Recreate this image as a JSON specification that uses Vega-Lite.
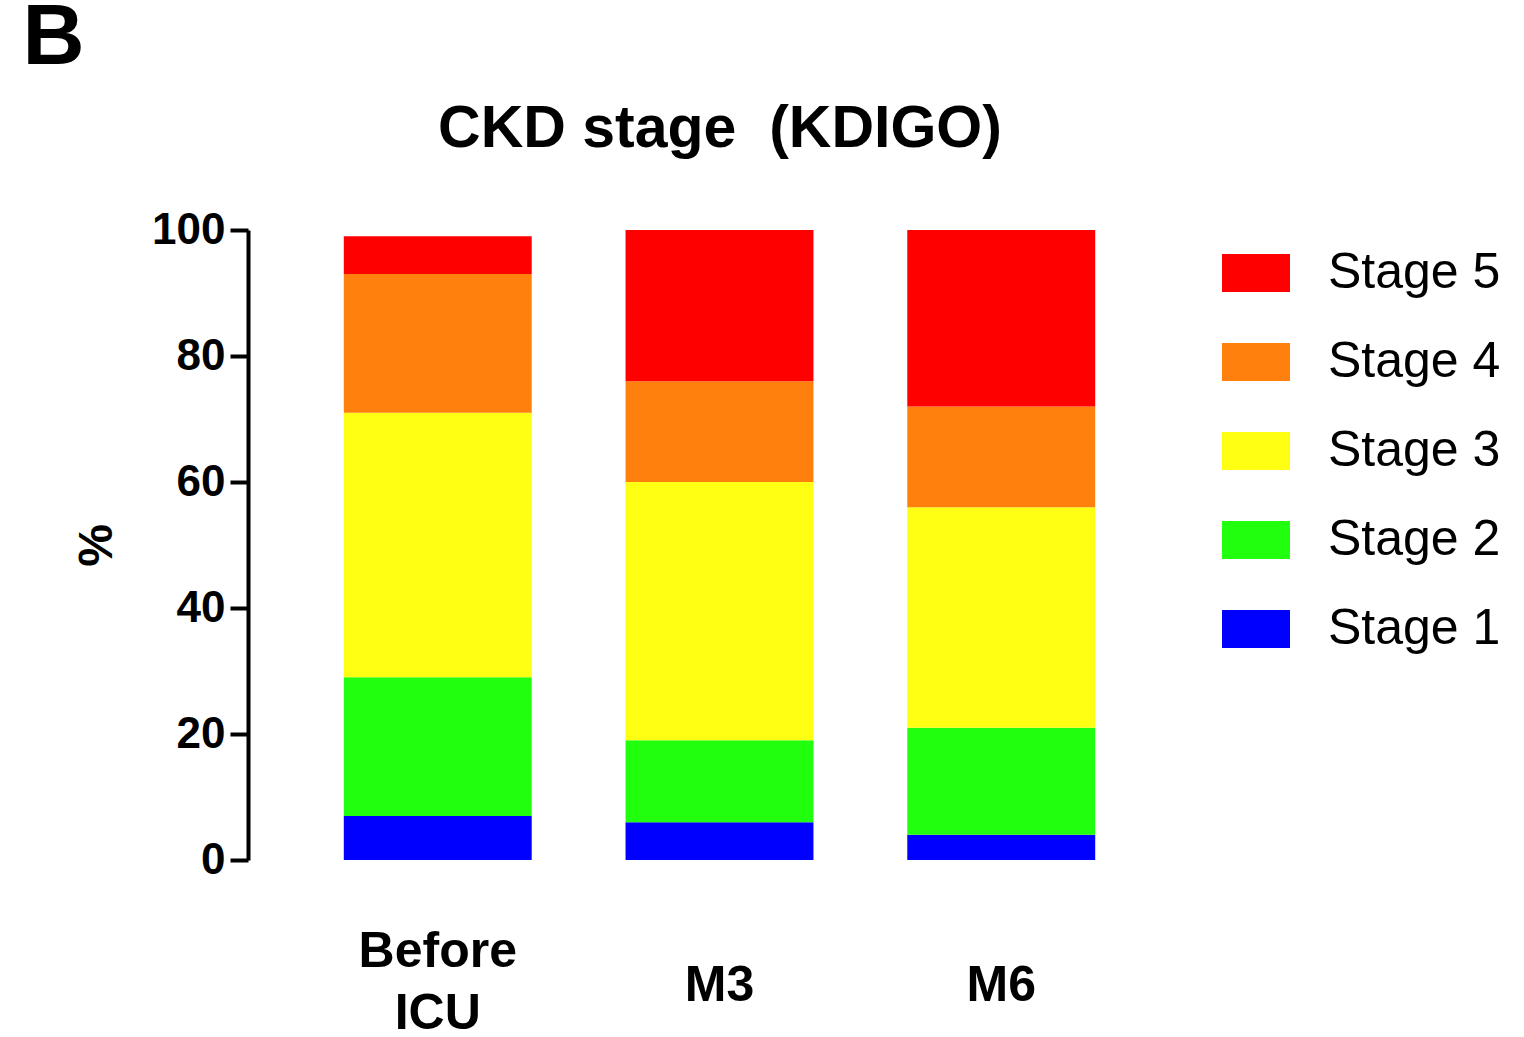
{
  "$schema": "https://vega.github.io/schema/vega-lite/v6.json",
  "autosize": "none",
  "width": 943,
  "height": 630,
  "padding": {"left": 248, "top": 230, "right": 333, "bottom": 177},
  "background": "white",
  "config": {"view": {"stroke": null}, "font": "Liberation Sans"},
  "title": {"text": "B", "fontSize": 86, "fontWeight": "bold", "font": "Liberation Sans", "anchor": "start", "frame": "bounds", "color": "black", "dx": -51, "offset": 17},
  "data": {"values": [
    {"time": "Before ICU", "stage": "Stage 1", "k": 1, "pct": 7},
    {"time": "Before ICU", "stage": "Stage 2", "k": 2, "pct": 22},
    {"time": "Before ICU", "stage": "Stage 3", "k": 3, "pct": 42},
    {"time": "Before ICU", "stage": "Stage 4", "k": 4, "pct": 22},
    {"time": "Before ICU", "stage": "Stage 5", "k": 5, "pct": 6},
    {"time": "M3", "stage": "Stage 1", "k": 1, "pct": 6},
    {"time": "M3", "stage": "Stage 2", "k": 2, "pct": 13},
    {"time": "M3", "stage": "Stage 3", "k": 3, "pct": 41},
    {"time": "M3", "stage": "Stage 4", "k": 4, "pct": 16},
    {"time": "M3", "stage": "Stage 5", "k": 5, "pct": 24},
    {"time": "M6", "stage": "Stage 1", "k": 1, "pct": 4},
    {"time": "M6", "stage": "Stage 2", "k": 2, "pct": 17},
    {"time": "M6", "stage": "Stage 3", "k": 3, "pct": 35},
    {"time": "M6", "stage": "Stage 4", "k": 4, "pct": 16},
    {"time": "M6", "stage": "Stage 5", "k": 5, "pct": 28}
  ]},
  "resolve": {"axis": {"x": "independent"}},
  "layer": [
    {
      "mark": {"type": "bar"},
      "encoding": {
        "x": {
          "field": "time", "type": "nominal", "sort": ["Before ICU", "M3", "M6"],
          "scale": {"paddingInner": 0.333, "paddingOuter": 0.34},
          "axis": {
            "title": null, "domain": false, "ticks": false, "labelAngle": 0,
            "labelFont": "Liberation Sans", "labelFontSize": 50, "labelFontWeight": "bold", "labelColor": "black",
            "labelBaseline": "middle", "labelLineHeight": 62,
            "labelPadding": {"condition": {"test": "datum.value == 'Before ICU'", "value": 91}, "value": 125},
            "labelExpr": "datum.label == 'Before ICU' ? ['Before', 'ICU'] : datum.label"
          }
        },
        "y": {
          "field": "pct", "type": "quantitative", "stack": "zero",
          "scale": {"domain": [0, 100], "nice": false},
          "axis": {
            "title": "%", "titleFont": "Liberation Sans", "titleFontSize": 48, "titleFontWeight": "bold", "titleColor": "black", "titlePadding": 30,
            "values": [0, 20, 40, 60, 80, 100], "grid": false,
            "domainColor": "black", "domainWidth": 4, "tickColor": "black", "tickWidth": 4, "tickSize": 18,
            "labelFont": "Liberation Sans", "labelFontSize": 44, "labelFontWeight": "bold", "labelColor": "black", "labelPadding": 5
          }
        },
        "color": {
          "field": "stage", "type": "nominal",
          "scale": {"domain": ["Stage 5", "Stage 4", "Stage 3", "Stage 2", "Stage 1"], "range": ["#FF0000", "#FF800C", "#FFFF14", "#22FF0E", "#0000FF"]},
          "legend": {
            "title": null, "orient": "none", "legendX": 974, "legendY": 9, "padding": 0,
            "symbolType": "M-1,-0.56H1V0.56H-1Z", "symbolSize": 4624, "symbolStrokeWidth": 0, "symbolOpacity": 1,
            "labelFont": "Liberation Sans", "labelFontSize": 50, "labelColor": "black", "labelOffset": 38,
            "rowPadding": 30, "labelLimit": 400
          }
        },
        "order": {"field": "k", "sort": "ascending"}
      }
    },
    {
      "mark": {"type": "point", "opacity": 0},
      "encoding": {
        "x": {
          "field": "time", "type": "nominal", "sort": ["Before ICU", "M3", "M6"],
          "axis": {
            "orient": "top", "title": "CKD stage \u00a0(KDIGO)", "domain": false, "ticks": false, "labels": false,
            "titleFont": "Liberation Sans", "titleFontSize": 59, "titleFontWeight": "bold", "titleColor": "black", "titlePadding": 72
          }
        }
      }
    }
  ]
}
